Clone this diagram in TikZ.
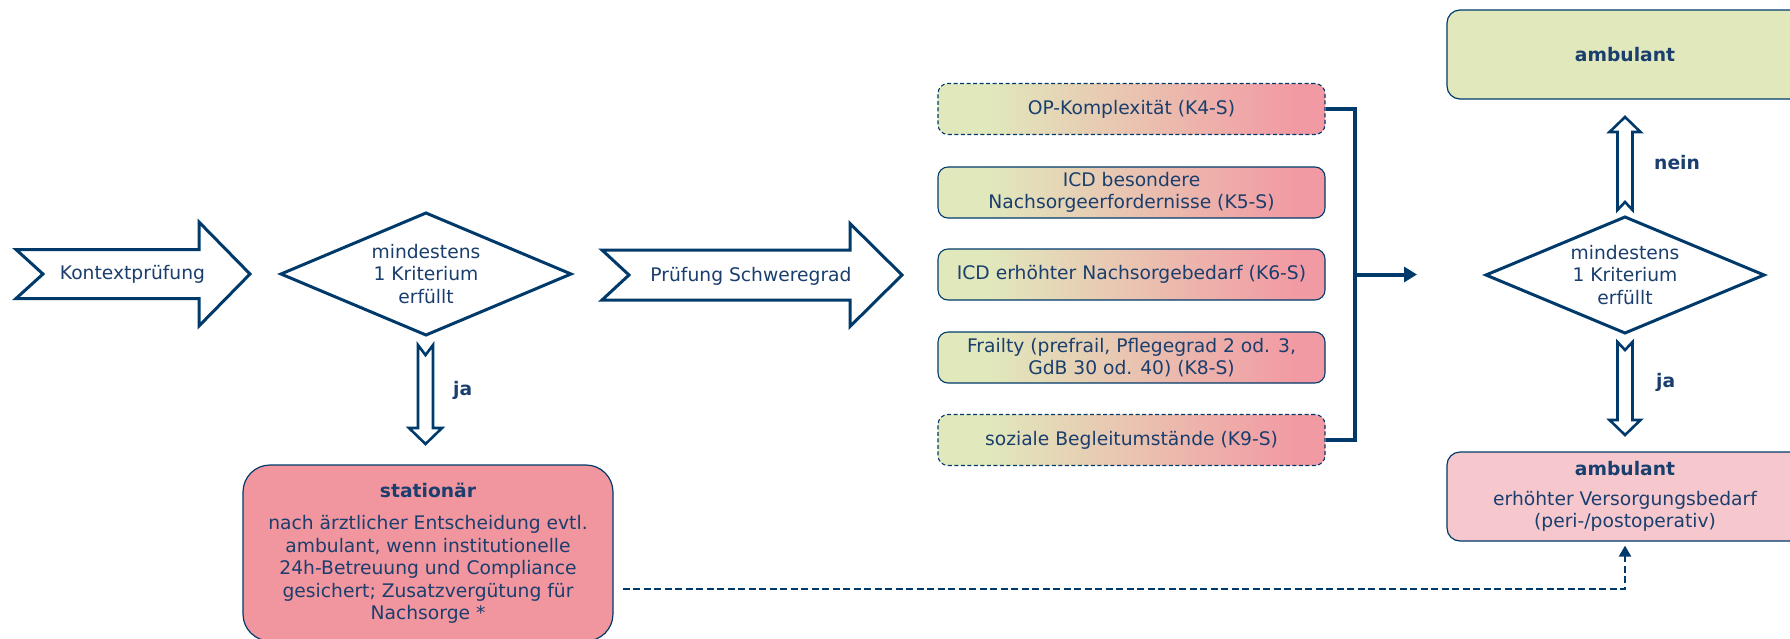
\documentclass[tikz,border=0pt]{standalone}
\usepackage{fontspec}
\setmainfont{DejaVu Sans}
\usetikzlibrary{calc,arrows.meta}

\definecolor{navy}{HTML}{003A6B}
\definecolor{ink}{HTML}{1A3E6D}
\definecolor{okgreen}{HTML}{E1E9BC}
\definecolor{statpink}{HTML}{F1969F}
\definecolor{lightpink}{HTML}{F6C8CE}
\definecolor{gradpink}{HTML}{F29AA3}

% green-to-pink fill of the criteria boxes (25bp..75bp = box width)
\pgfdeclarehorizontalshading{critshade}{100bp}{%
  color(0bp)=(okgreen); color(31bp)=(okgreen);
  color(71bp)=(gradpink); color(100bp)=(gradpink)}

\tikzset{
  blockarrow/.style={draw=navy, line width=3pt, fill=white, line join=miter},
  hollowarrow/.style={draw=navy, line width=2.6pt, fill=white, line join=miter},
  decision/.style={draw=navy, line width=3pt, line join=miter},
  plain/.style={align=center, inner sep=0pt},
  crit/.style={draw=navy, line width=1.1pt, rounded corners=10pt,
    shade, shading=critshade, minimum width=387pt, minimum height=51pt,
    align=center, inner sep=0pt},
  critdash/.style={crit, dash pattern=on 4pt off 2.5pt},
  result/.style={draw=navy, line width=1.2pt, align=center, inner sep=0pt},
  label/.style={font=\fontsize{18.7}{22.5}\selectfont\bfseries, anchor=west, inner sep=0pt},
}

\begin{document}
\begin{tikzpicture}[x=1pt, y=-1pt, font=\fontsize{18.7}{22.5}\selectfont, text=ink]
\useasboundingbox (0,0) rectangle (1790,638);
\clip (0,0) rectangle (1790,638);

% --- step 1: context check --------------------------------------------
\draw[blockarrow] (16,249.5) -- (199,249.5) -- (199,222) -- (250,274) -- (199,326)
  -- (199,298.5) -- (16,298.5) -- (43,274) -- cycle;
\node[plain] (kontext) at (132.5,274) {Kontextprüfung};

\node[plain] (d1) at (426,274) {mindestens\\1 Kriterium\\erfüllt};
\draw[decision] ($(d1)+(-145,0)$) -- ($(d1)+(0,-61)$) -- ($(d1)+(145,0)$)
  -- ($(d1)+(0,61)$) -- cycle;

% ja -> stationär
\draw[hollowarrow] (418,345) -- (425.5,355) -- (433,345) -- (433,428) -- (442,428)
  -- (425.5,444) -- (409,428) -- (418,428) -- cycle;
\node[label] (ja1) at (453,390) {ja};

\node[result, fill=statpink, rounded corners=27pt, minimum width=370pt,
  minimum height=176pt] (stat) at (428,553)
  {\textbf{stationär}\\[10pt]
   nach ärztlicher Entscheidung evtl.\\
   ambulant, wenn institutionelle\\
   24h-Betreuung und Compliance\\
   gesichert; Zusatzvergütung für\\
   Nachsorge *};

% --- step 2: severity check -------------------------------------------
\draw[blockarrow] (602,250) -- (850,250) -- (850,223.5) -- (902,275) -- (850,326.5)
  -- (850,300) -- (602,300) -- (629,275) -- cycle;
\node[plain] (schwere) at (751,276) {Prüfung Schweregrad};

\node[critdash] (k4) at (1131.5,109)   {OP-Komplexität (K4-S)};
\node[crit]     (k5) at (1131.5,192.5) {ICD besondere\\[-1pt]Nachsorgeerfordernisse (K5-S)};
\node[crit]     (k6) at (1131.5,274.5) {ICD erhöhter Nachsorgebedarf (K6-S)};
\node[crit]     (k8) at (1131.5,357.5) {Frailty (prefrail, Pflegegrad 2 od. 3,\\[-1pt]GdB 30 od. 40) (K8-S)};
\node[critdash] (k9) at (1131.5,440)   {soziale Begleitumstände (K9-S)};

% bracket joining the criteria
\coordinate (jn) at (1355,274.5);
\coordinate (jt) at (1417,274.5);
\draw[navy, line width=4pt, line join=miter] (k4.east) -| (jn) |- (k9.east);
\draw[navy, line width=4pt, -{Triangle[length=13pt,width=15pt]}] (jn) -- (jt);

\node[plain] (d2) at (1625,275) {mindestens\\1 Kriterium\\erfüllt};
\draw[decision] ($(d2)+(-139,0)$) -- ($(d2)+(0,-58)$) -- ($(d2)+(139,0)$)
  -- ($(d2)+(0,58)$) -- cycle;

% nein -> ambulant
\draw[hollowarrow] (1625,117) -- (1640.5,132) -- (1632.5,132) -- (1632.5,210)
  -- (1625,202) -- (1617.5,210) -- (1617.5,132) -- (1609.5,132) -- cycle;
\node[label] (nein) at (1654,163) {nein};

\node[result, fill=okgreen, rounded corners=13pt, minimum width=356pt,
  minimum height=89pt] (amb1) at (1625,54.5) {\textbf{ambulant}};

% ja -> ambulant with increased care
\draw[hollowarrow] (1617.5,342) -- (1625,350) -- (1632.5,342) -- (1632.5,420)
  -- (1640.5,420) -- (1625,435) -- (1609.5,420) -- (1617.5,420) -- cycle;
\node[label] (ja2) at (1656,382) {ja};

\node[result, fill=lightpink, rounded corners=13pt, minimum width=356pt,
  minimum height=89pt] (amb2) at (1625,496.5)
  {\textbf{ambulant}\\[7pt]erhöhter Versorgungsbedarf\\(peri-/postoperativ)};

% dashed link from stationär to ambulant
\draw[navy, line width=2.5pt, dash pattern=on 7pt off 3.5pt, shorten >=4pt,
  -{Triangle[length=11pt,width=12pt]}]
  ($(stat.east)+(9,36)$) -| (amb2.south);
\end{tikzpicture}
\end{document}
